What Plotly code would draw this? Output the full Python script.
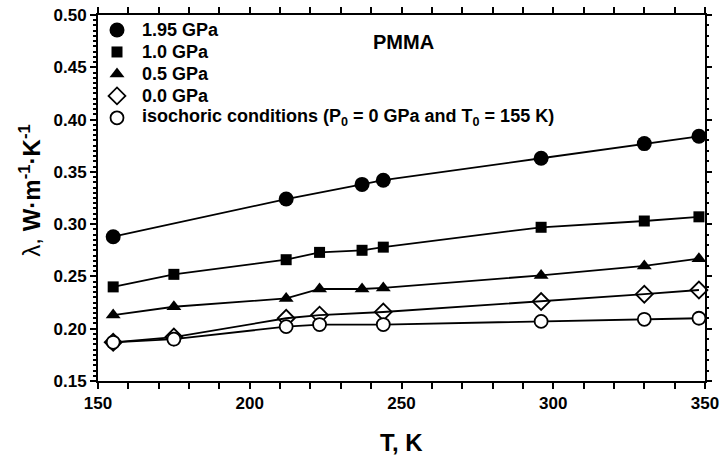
import plotly.graph_objects as go

T_195 = [155, 212, 237, 244, 296, 330, 348]
L_195 = [0.288, 0.324, 0.338, 0.342, 0.363, 0.377, 0.384]

T_10 = [155, 175, 212, 223, 237, 244, 296, 330, 348]
L_10 = [0.240, 0.252, 0.266, 0.273, 0.275, 0.278, 0.297, 0.303, 0.307]

T_05 = [155, 175, 212, 223, 237, 244, 296, 330, 348]
L_05 = [0.213, 0.221, 0.229, 0.238, 0.238, 0.239, 0.251, 0.260, 0.267]

T_00 = [155, 175, 212, 223, 244, 296, 330, 348]
L_00 = [0.187, 0.192, 0.210, 0.213, 0.216, 0.226, 0.233, 0.237]

T_iso = [155, 175, 212, 223, 244, 296, 330, 348]
L_iso = [0.187, 0.190, 0.202, 0.204, 0.204, 0.207, 0.209, 0.210]

names = ["1.95 GPa", "1.0 GPa", "0.5 GPa", "0.0 GPa",
         "isochoric conditions (P<sub>0</sub> = 0 GPa and T<sub>0</sub> = 155 K)"]

FONT = "Liberation Sans, Arial, sans-serif"

series = [
    (T_195, L_195, dict(symbol="circle", size=15, color="black")),
    (T_10, L_10, dict(symbol="square", size=11, color="black")),
    (T_05, L_05, dict(symbol="triangle-up", size=13, color="black")),
    (T_00, L_00, dict(symbol="diamond-open", size=13, color="black", line=dict(width=1.8, color="black"))),
    (T_iso, L_iso, dict(symbol="circle", size=13, color="white", line=dict(width=1.8, color="black"))),
]

fig = go.Figure()
for (tx, ly, mk), nm in zip(series, names):
    fig.add_trace(go.Scatter(x=tx, y=ly, mode="lines+markers", name=nm,
                             line=dict(color="black", width=1.8),
                             marker=mk, showlegend=False, cliponaxis=False))

# legend key (symbol + label) drawn on a hidden unit overlay axis
leg_x = 0.0313
leg_text_x = 0.069
leg_rows = [0.959, 0.899, 0.839, 0.779, 0.719]
for (tx, ly, mk), nm, ry in zip(series, names, leg_rows):
    fig.add_trace(go.Scatter(x=[leg_x], y=[ry], mode="markers", marker=mk,
                             xaxis="x2", yaxis="y3", showlegend=False, hoverinfo="skip"))
    fig.add_annotation(xref="x2", yref="y3", x=leg_text_x, y=ry, text=nm,
                       xanchor="left", yanchor="middle", showarrow=False,
                       font=dict(family=FONT, size=18, weight="bold", color="black"))

fig.add_trace(go.Scatter(x=[None], y=[None], yaxis="y2", showlegend=False))

fig.add_annotation(x=250.5, y=0.474, text="PMMA", showarrow=False,
                   font=dict(family=FONT, size=20, color="black", weight="bold"))

# axis titles
fig.add_annotation(xref="paper", yref="paper", x=0.5, y=-0.167, text="T, K",
                   showarrow=False, xanchor="center", yanchor="middle",
                   font=dict(family=FONT, size=24, weight="bold", color="black"))
fig.add_annotation(xref="paper", yref="paper", x=-0.112, y=0.52,
                   text="λ, <b>W·m<sup>-1</sup>·K<sup>-1</sup></b>", textangle=-90,
                   showarrow=False, xanchor="center", yanchor="middle",
                   font=dict(family=FONT, size=24, color="black"))

tickfont = dict(family=FONT, size=17, color="black", weight="bold")

fig.update_layout(
    width=721, height=457,
    margin=dict(l=98, r=16, t=15, b=76),
    paper_bgcolor="white", plot_bgcolor="white",
    font=dict(family=FONT, color="black", size=13),
    showlegend=False,
    xaxis=dict(range=[150, 350], dtick=50, tick0=150, automargin=False,
               showline=True, linecolor="black", linewidth=2, mirror="allticks",
               ticks="outside", ticklen=6, tickwidth=2, tickcolor="black",
               minor=dict(dtick=10, ticks="outside", ticklen=3, tickwidth=1.5, tickcolor="black"),
               showgrid=False, zeroline=False, tickfont=tickfont),
    yaxis=dict(range=[0.15, 0.50], dtick=0.05, tick0=0.15, tickformat=".2f", automargin=False,
               showline=True, linecolor="black", linewidth=2, mirror=True,
               ticks="outside", ticklen=6, tickwidth=2, tickcolor="black",
               minor=dict(dtick=0.005, ticks="outside", ticklen=3, tickwidth=1.5, tickcolor="black"),
               showgrid=False, zeroline=False, tickfont=tickfont),
    yaxis2=dict(range=[0.15, 0.50], overlaying="y", side="right", dtick=0.05, automargin=False,
                showticklabels=False, showline=False, showgrid=False, zeroline=False,
                ticks="outside", ticklen=6, tickwidth=2, tickcolor="black",
                minor=dict(dtick=0.01, ticks="outside", ticklen=3, tickwidth=1.5, tickcolor="black")),
    xaxis2=dict(range=[0, 1], overlaying="x", visible=False, fixedrange=True),
    yaxis3=dict(range=[0, 1], overlaying="y", visible=False, fixedrange=True),
)

fig.write_html("out.html")
